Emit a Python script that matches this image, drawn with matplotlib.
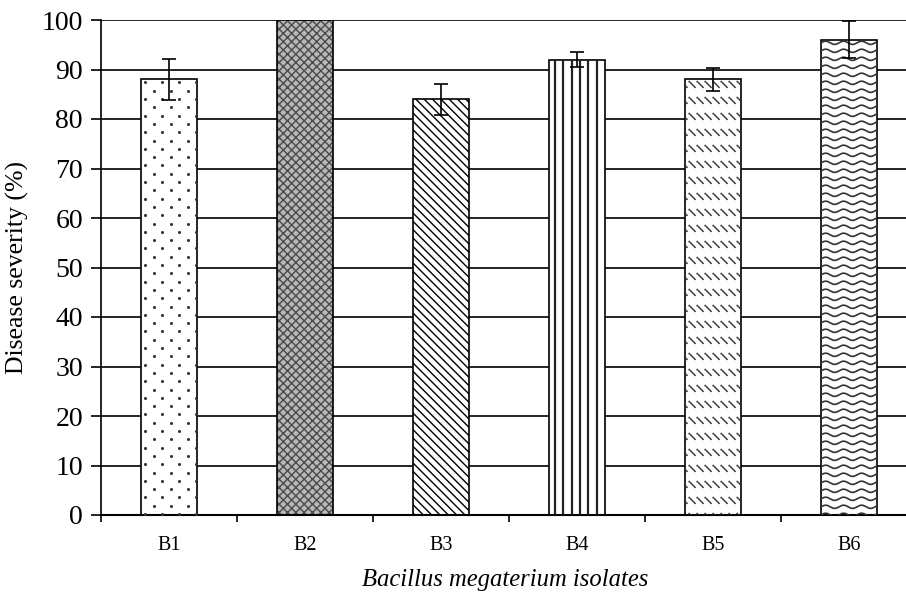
import numpy as np
import matplotlib
matplotlib.use('Agg')
import matplotlib.pyplot as plt
from matplotlib.ticker import FixedLocator, NullFormatter

isolates = ['B1', 'B2', 'B3', 'B4', 'B5', 'B6']
severity = [88, 100, 84, 92, 88, 96]
errors = [4.1, 0, 3.1, 1.5, 2.3, 3.7]

plt.rcParams['font.family'] = ['Liberation Serif', 'DejaVu Serif']
plt.rcParams['hatch.linewidth'] = 1.0

fig = plt.figure(figsize=(9.06, 5.96), dpi=100)
# plot area runs past the right edge of the picture, as in the original
ax = fig.add_axes([101 / 906, 81 / 596, 816 / 906, 495 / 596])

x = np.arange(len(isolates)) + 0.5
width = 0.41

ax.set_axisbelow(True)
ax.yaxis.grid(True, color='black', linewidth=1.2)

# fine grey checker under B2 (hatch colour follows edgecolor)
ax.bar(x[1], severity[1], width=width, color='#b8b8b8', edgecolor='#4a4a4a',
       linewidth=0, hatch='xxxx', zorder=2)

bars = ax.bar(x, severity, width=width, color='white', edgecolor='black',
              linewidth=1.2, zorder=2.1)
bars[1].set_facecolor('none')
bars[2].set_hatch('\\\\\\\\')

# px -> data conversion helpers
px_x = 1 / 136.0
px_y = 10 / 49.5


def texture(bar, xs, ys, **kw):
    line, = ax.plot(xs, ys, zorder=3, **kw)
    line.set_clip_path(bar)


# B1: small staggered dots
b = bars[0]
x0 = b.get_x()
for i, yrow in enumerate(np.arange(severity[0] - 3 * px_y, 0, -8.3 * px_y)):
    off = 0 if i % 2 == 0 else 8.5 * px_x
    xs = np.arange(x0 + 4 * px_x + off, x0 + width, 17 * px_x)
    texture(b, xs, np.full_like(xs, yrow), linestyle='none', marker='o',
            markersize=2.2, markeredgewidth=0, color='#333333')

# B4: vertical lines
b = bars[3]
x0 = b.get_x()
for xv in np.arange(x0 + 6 * px_x, x0 + width, 8.3 * px_x):
    texture(b, [xv, xv], [0, severity[3]], color='#222222', linewidth=1.6)

# B5: rows of short diagonal dashes
b = bars[4]
x0 = b.get_x()
for yrow in np.arange(severity[4] - 2 * px_y, -3, -16 * px_y):
    for xs in np.arange(x0 - 4 * px_x, x0 + width, 8 * px_x):
        texture(b, [xs, xs + 6 * px_x], [yrow, yrow - 6 * px_y],
                color='#333333', linewidth=1.0)

# B6: wavy lines
b = bars[5]
x0 = b.get_x()
xx = np.linspace(x0, x0 + width, 200)
for yrow in np.arange(severity[5] - 3 * px_y, -3, -8 * px_y):
    yy = yrow + 1.6 * px_y * np.sin(2 * np.pi * (xx - x0) / (18 * px_x))
    texture(b, xx, yy, color='#333333', linewidth=1.2)

ax.errorbar(x, severity, yerr=errors, fmt='none', ecolor='black',
            elinewidth=1.2, capsize=5, capthick=1.2, zorder=4)

ax.set_xlim(0, len(isolates))
ax.set_ylim(0, 100)
ax.set_yticks(np.arange(0, 101, 10))
ax.set_xticks(x)
ax.set_xticklabels(isolates, fontsize=14.5)
ax.xaxis.set_minor_locator(FixedLocator(np.arange(0, len(isolates) + 1)))
ax.xaxis.set_minor_formatter(NullFormatter())
ax.tick_params(axis='x', which='major', length=0, pad=15)
ax.tick_params(axis='x', which='minor', length=5, width=1.2, direction='out')
ax.tick_params(axis='y', labelsize=20, length=7, width=1.2, direction='out',
               pad=6)

for side in ['top', 'right']:
    ax.spines[side].set_visible(False)
ax.spines['left'].set_linewidth(1.2)
ax.spines['bottom'].set_linewidth(1.5)

ax.set_ylabel('Disease severity (%)', fontsize=18.5)
ax.yaxis.set_label_coords(-72 / 816, 0.5)
ax.set_xlabel('Bacillus megaterium isolates', fontsize=17.7, style='italic')
ax.xaxis.set_label_coords((505 - 101) / 816, -54 / 495)

fig.savefig('out.png', dpi=100)
